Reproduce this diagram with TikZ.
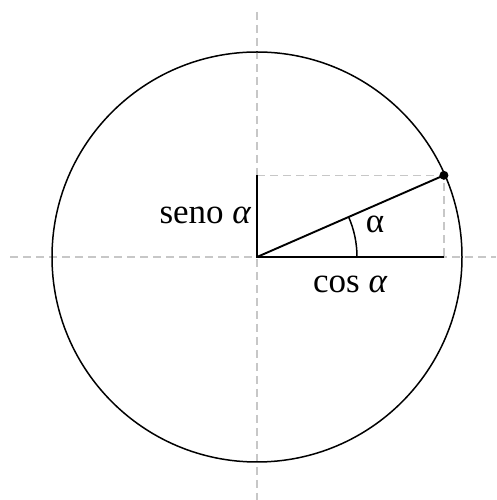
\documentclass[tikz,border=0pt]{standalone}
\usepackage{fontspec}
\setmainfont{Liberation Serif}
\begin{document}
\begin{tikzpicture}[x=1pt,y=1pt,
  guide/.style={draw=black!22, line width=1.4pt, dash pattern=on 8pt off 5pt},
  solidline/.style={draw=black, line width=1.9pt},
  thinline/.style={draw=black, line width=1.5pt},
  lbl/.style={font=\fontsize{35}{40}\selectfont, inner sep=0pt}]
\useasboundingbox (0,0) rectangle (496,500);
\coordinate (O) at (257,243);
\path (O) ++(23.6:204pt) coordinate (P);
\coordinate (S) at (O |- P);
\coordinate (C) at (P |- O);
\coordinate (HL) at (10,243);
\coordinate (HR) at (496,243);
\coordinate (VT) at (257,488);
\coordinate (VB) at (257,0);
\path (O) ++(100pt,0) coordinate (A0);
% guides
\draw[guide] (HL) -- (HR);
\draw[guide] (VT) -- (VB);
\draw[guide] (S) -- (P) -- (C);
% circle
\draw[thinline] (O) circle (205pt);
% legs and radius
\draw[solidline] (S) -- (O) -- (C);
\draw[solidline] (O) -- (P);
\draw[thinline] (A0) arc[start angle=0, end angle=23.6, radius=100pt];
\fill (P) circle (4.5pt);
% labels
\node[lbl, anchor=base east] (sen) at (251,276) {seno {\itshape α}};
\node[lbl, anchor=base] (cos) at (350,207) {cos {\itshape α}};
\node[lbl, anchor=base] (ang) at (375,267) {α};
\end{tikzpicture}
\end{document}
